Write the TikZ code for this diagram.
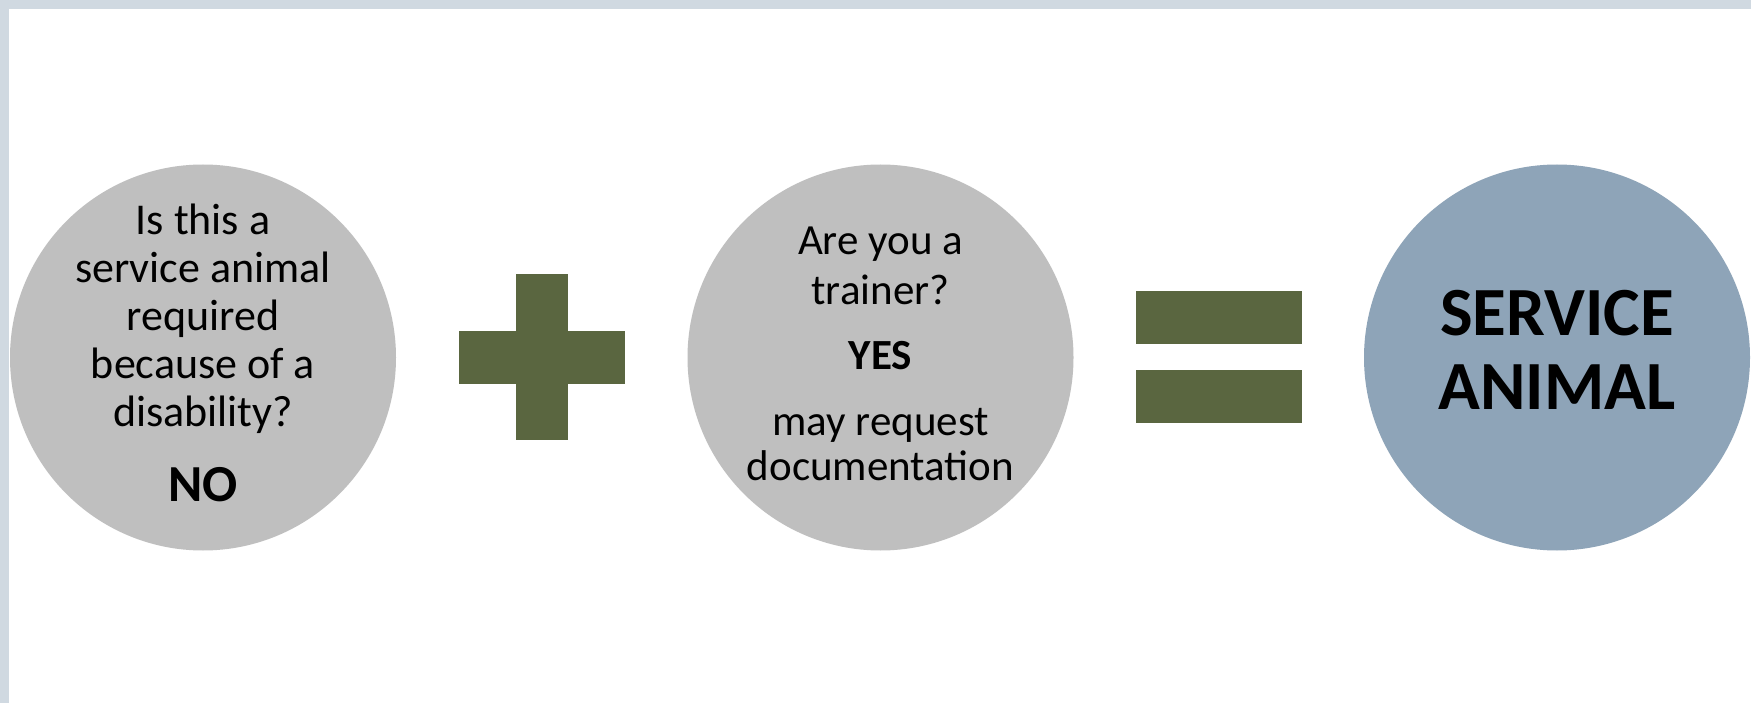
\documentclass[tikz,border=0pt]{standalone}
\usepackage{fontspec}
\setmainfont{Carlito}
\definecolor{bandcol}{HTML}{D0D9E1}
\definecolor{graycirc}{HTML}{BFBFBF}
\definecolor{bluecirc}{HTML}{8EA4B8}
\definecolor{greensym}{HTML}{5A6640}
\tikzset{
  disc/.style={circle, inner sep=0pt, minimum size=386pt, draw=none},
  lineA/.style={anchor=base, inner sep=0pt, font=\fontsize{44}{48}\selectfont},
  boldA/.style={anchor=base, inner sep=0pt, font=\fontsize{52}{60}\selectfont\bfseries},
  lineB/.style={anchor=base, inner sep=0pt, font=\fontsize{43}{46}\selectfont},
  boldB/.style={anchor=base, inner sep=0pt, font=\fontsize{43}{46}\selectfont\bfseries},
  boldC/.style={anchor=base, inner sep=0pt, font=\fontsize{69}{74}\selectfont\bfseries},
  symbar/.style={fill=greensym, draw=none}
}
\begin{document}
\begin{tikzpicture}[x=1pt,y=-1pt]
\useasboundingbox (0,0) rectangle (1751,703);
\fill[white] (0,0) rectangle (1751,703);
\fill[bandcol] (0,0) rectangle (1751,9);
\fill[bandcol] (0,0) rectangle (9,703);
% circles
\node[disc, fill=graycirc] (c1) at (203,357.5) {};
\node[disc, fill=graycirc] (c2) at (880.5,357.5) {};
\node[disc, fill=bluecirc] (c3) at (1557,357.5) {};
% circle 1 text
\node[lineA] (t11) at (203,234.3) {Is this a};
\node[lineA] (t12) at (203,282.3) {service animal};
\node[lineA] (t13) at (203,330.3) {required};
\node[lineA] (t14) at (203,378.3) {because of a};
\node[lineA] (t15) at (203,426.3) {disability?};
\node[boldA] (t16) at (203,501.7) {NO};
% circle 2 text
\node[lineB] (t21) at (880.5,255) {Are you a};
\node[lineB] (t22) at (880.5,305) {trainer?};
\node[boldB] (t23) at (880.5,369.3) {YES};
\node[lineB] (t24) at (880.5,435) {may request};
\node[lineB] (t25) at (880.5,480.7) {documentation};
% circle 3 text
\node[boldC] (t31) at (1557,335) {SERVICE};
\node[boldC] (t32) at (1557,409.3) {ANIMAL};
% plus
\fill[symbar] (515.7,274.3) rectangle (568.3,440);
\fill[symbar] (459,330.7) rectangle (624.7,384);
% equals
\fill[symbar] (1136,291) rectangle (1301.7,344);
\fill[symbar] (1136,370) rectangle (1301.7,423.3);
\end{tikzpicture}
\end{document}
